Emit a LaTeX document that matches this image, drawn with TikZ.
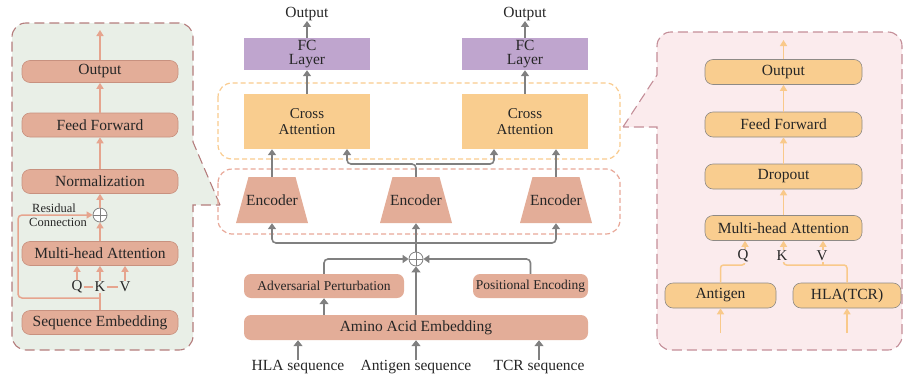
\documentclass[tikz,border=0pt]{standalone}
\usepackage{fontspec}
\setmainfont{Liberation Serif}
\usetikzlibrary{arrows.meta,shapes.geometric,calc}
\definecolor{salmon}{HTML}{E3AD98}
\definecolor{salmonedge}{HTML}{C8917F}
\definecolor{orng}{HTML}{F9CD8F}
\definecolor{orngedge}{HTML}{8E8A86}
\definecolor{purp}{HTML}{BFA5CE}
\definecolor{grayarrow}{HTML}{808080}
\definecolor{lpanelfill}{HTML}{E9EFE7}
\definecolor{lpaneledge}{HTML}{B47C7C}
\definecolor{rpanelfill}{HTML}{FBEBED}
\definecolor{rpaneledge}{HTML}{C48E98}
\definecolor{orngdash}{HTML}{F9CB8E}
\definecolor{reddash}{HTML}{E8A898}
\definecolor{larrowc}{HTML}{E6A48E}
\definecolor{rarrowc}{HTML}{F9C98A}
\begin{document}
\begin{tikzpicture}[x=1pt,y=-1pt,
 base/.style={font=\fontsize{15.5}{17}\selectfont, inner sep=0pt, align=center, text=black!85},
 lbox/.style={base, rounded corners=8pt, fill=salmon, draw=salmonedge, line width=0.6pt, minimum width=156pt, minimum height=24pt},
 rbox/.style={base, rounded corners=8pt, fill=orng, draw=orngedge, line width=0.6pt, minimum height=25pt},
 cbox/.style={base, rounded corners=7pt, fill=salmon, minimum height=24pt},
 fcbox/.style={base, fill=purp, minimum width=126pt, minimum height=32pt, font=\fontsize{15.5}{14.5}\selectfont},
 cabox/.style={base, fill=orng, minimum width=126pt, minimum height=55pt, font=\fontsize{15}{16.5}\selectfont},
 encbox/.style={base, rectangle, minimum width=72pt, minimum height=46pt,
   path picture={\fill[salmon] (path picture bounding box.south west) -- ($(path picture bounding box.north west)+(12.5pt,0pt)$) -- ($(path picture bounding box.north east)+(-12.5pt,0pt)$) -- (path picture bounding box.south east) -- cycle;}},
 oplus/.style={circle, draw=grayarrow, line width=0.8pt, fill=white, minimum size=14pt, inner sep=0pt,
   path picture={\draw[grayarrow, line width=0.6pt] (path picture bounding box.north) -- (path picture bounding box.south) (path picture bounding box.west) -- (path picture bounding box.east);}},
 qkv/.style={base, font=\fontsize{15}{16}\selectfont, inner sep=1pt},
 gar/.style={draw=grayarrow, line width=1.6pt, -{Triangle[length=6pt,width=8pt]}},
 garthick/.style={draw=grayarrow, line width=2.8pt, -{Triangle[length=6pt,width=9pt]}},
 lline/.style={draw=larrowc, line width=1.5pt},
 lar/.style={lline, -{Triangle[length=6pt,width=7pt]}},
 rline/.style={draw=rarrowc, line width=1.5pt},
 rar/.style={rline, -{Triangle[length=6pt,width=7pt]}},
 panel/.style={line width=1.1pt, dash pattern=on 10pt off 5pt},
 dframe/.style={line width=1.2pt, dash pattern=on 5pt off 3pt, rounded corners=14pt}
]
\useasboundingbox (0,0) rectangle (904,380);

% ---------- panels ----------
\draw[panel, draw=lpaneledge, fill=lpanelfill] (220,205) -- (193,142) [rounded corners=14pt] -- (193,23) -- (12,23) -- (12,350) -- (193,350) [sharp corners] -- (193,205) -- cycle;
\draw[panel, draw=rpaneledge, fill=rpanelfill] (623,127) -- (657,75) [rounded corners=14pt] -- (657,32) -- (902,32) -- (902,350) -- (657,350) [sharp corners] -- (657,127) -- cycle;

\draw[dframe, draw=orngdash] (218,83) rectangle (620,159);
\draw[dframe, draw=reddash] (218,169) rectangle (620,234);

% ---------- left panel ----------
\node[lbox, minimum height=22pt] (lout) at (100,71.5) {Output};
\node[lbox] (lff) at (100,125) {Feed Forward};
\node[lbox] (lnorm) at (100,181.5) {Normalization};
\node[lbox] (lmha) at (100,253.5) {Multi-head Attention};
\node[lbox] (lseq) at (100,322.5) {Sequence Embedding};
\node[oplus] (lplus) at (100,215) {};
\node[qkv, fill=lpanelfill] (lq) at (77,287) {Q};
\node[qkv, fill=lpanelfill] (lk) at (100,287) {K};
\node[qkv, fill=lpanelfill] (lv) at (125,287) {V};
\node[base, anchor=west, align=left, font=\fontsize{12.5}{14.5}\selectfont] (lres) at (29,215) {\hspace*{3pt}Residual\\Connection};
\coordinate (ltop) at (100,30);
\coordinate (lbr) at (100,298);

\draw[lar] (lout.north) -- (ltop);
\draw[lar] (lff.north) -- (lout.south);
\draw[lar] (lnorm.north) -- (lff.south);
\draw[lar] (lplus.north) -- (lnorm.south);
\draw[lar] (lmha.north) -- (lplus.south);
\draw[lline] (lseq.north) -- (lk.south);
\draw[lar] (lk.north) -- (lmha.south);
\draw[lar] (lq.north) -- (lq.north |- lmha.south);
\draw[lar] (lv.north) -- (lv.north |- lmha.south);
\draw[lline] (lq.east) -- (lk.west) (lk.east) -- (lv.west);
\draw[lar, rounded corners=4pt] (lbr) -- (18,298) -- (18,215) -- (lplus.west);

% ---------- centre ----------
\node[base] (o1) at (307,14) {Output};
\node[base] (o2) at (525,14) {Output};
\node[fcbox] (fc1) at (307,54) {FC\\Layer};
\node[fcbox] (fc2) at (525,54) {FC\\Layer};
\node[cabox] (ca1) at (307,121.5) {Cross\\Attention};
\node[cabox] (ca2) at (525,121.5) {Cross\\Attention};
\node[encbox] (e1) at (272,200) {\raisebox{-3pt}{Encoder}};
\node[encbox] (e2) at (416,200) {\raisebox{-3pt}{Encoder}};
\node[encbox] (e3) at (556,200) {\raisebox{-3pt}{Encoder}};
\node[oplus] (plus) at (416,259) {};
\node[cbox, minimum width=160pt, font=\fontsize{13.5}{15}\selectfont] (adv) at (324,286) {Adversarial Perturbation};
\node[cbox, minimum width=115pt, font=\fontsize{13.5}{15}\selectfont] (pos) at (530.5,286) {Positional Encoding};
\node[cbox, minimum width=344pt, minimum height=25pt] (amino) at (416,327.5) {Amino Acid Embedding};
\node[base] (hla) at (298,367) {HLA sequence};
\node[base] (ant) at (416,367) {Antigen sequence};
\node[base] (tcr) at (539,367) {TCR sequence};

\draw[gar] (fc1.north) -- (o1.south);
\draw[gar] (fc2.north) -- (o2.south);
\draw[gar] (ca1.north) -- (fc1.south);
\draw[gar] (ca2.north) -- (fc2.south);
\draw[gar] (e1.north) -- (e1.north |- ca1.south);
\draw[gar] (e3.north) -- (e3.north |- ca2.south);
\coordinate (split) at (416,164);
\coordinate (ca1in) at (347,149);
\coordinate (ca2in) at (494,149);
\draw[gar, rounded corners=4pt] (e2.north) -- (split) -| (ca1in);
\draw[gar, rounded corners=4pt] (split) -| (ca2in);

\coordinate (fork) at (416,243);
\draw[gar] (plus.north) -- (e2.south);
\draw[gar, rounded corners=4pt] (fork) -| (e1.south);
\draw[gar, rounded corners=4pt] (fork) -| (e3.south);
\draw[gar, rounded corners=4pt] (adv.north) |- (plus.west);
\draw[gar, rounded corners=4pt] (pos.north) |- (plus.east);
\draw[garthick] (amino.north) -- (plus.south);
\draw[garthick] (amino.north -| adv.north) -- (adv.south);
\draw[garthick] (hla.north) -- (hla.north |- amino.south);
\draw[garthick] (ant.north) -- (ant.north |- amino.south);
\draw[garthick] (tcr.north) -- (tcr.north |- amino.south);

% ---------- right panel ----------
\node[rbox, minimum width=157pt] (rout) at (783.5,72) {Output};
\node[rbox, minimum width=157pt] (rff) at (783.5,124.5) {Feed Forward};
\node[rbox, minimum width=157pt] (rdrop) at (783.5,176.5) {Dropout};
\node[rbox, minimum width=157pt] (rmha) at (783.5,228) {Multi-head Attention};
\node[rbox, minimum width=111pt] (rant) at (720.5,295.5) {Antigen};
\node[rbox, minimum width=108pt] (rhla) at (847,295.5) {HLA(TCR)};
\coordinate (rtop) at (783.5,40);
\coordinate (rq) at (745,265);
\coordinate (rk) at (783.5,265);
\coordinate (rv) at (823,265);
\coordinate (rinA) at (720.5,333);
\coordinate (rinH) at (847,333);

\draw[rar] (rout.north) -- (rtop);
\draw[rar] (rff.north) -- (rout.south);
\draw[rar] (rdrop.north) -- (rff.south);
\draw[rar] (rmha.north) -- (rdrop.south);
\draw[rar, rounded corners=3pt] (rant.north) |- (rq) -- (rq |- rmha.south);
\draw[rar, rounded corners=3pt] (rhla.north) |- (rk) -- (rk |- rmha.south);
\draw[rar] (rv) -- (rv |- rmha.south);
\draw[rar] (rinA) -- (rant.south);
\draw[rar] (rinH) -- (rhla.south);
\node[qkv, fill=rpanelfill] (rql) at (743,256) {Q};
\node[qkv, fill=rpanelfill] (rkl) at (782,256) {K};
\node[qkv, fill=rpanelfill] (rvl) at (822,256) {V};
\end{tikzpicture}
\end{document}
